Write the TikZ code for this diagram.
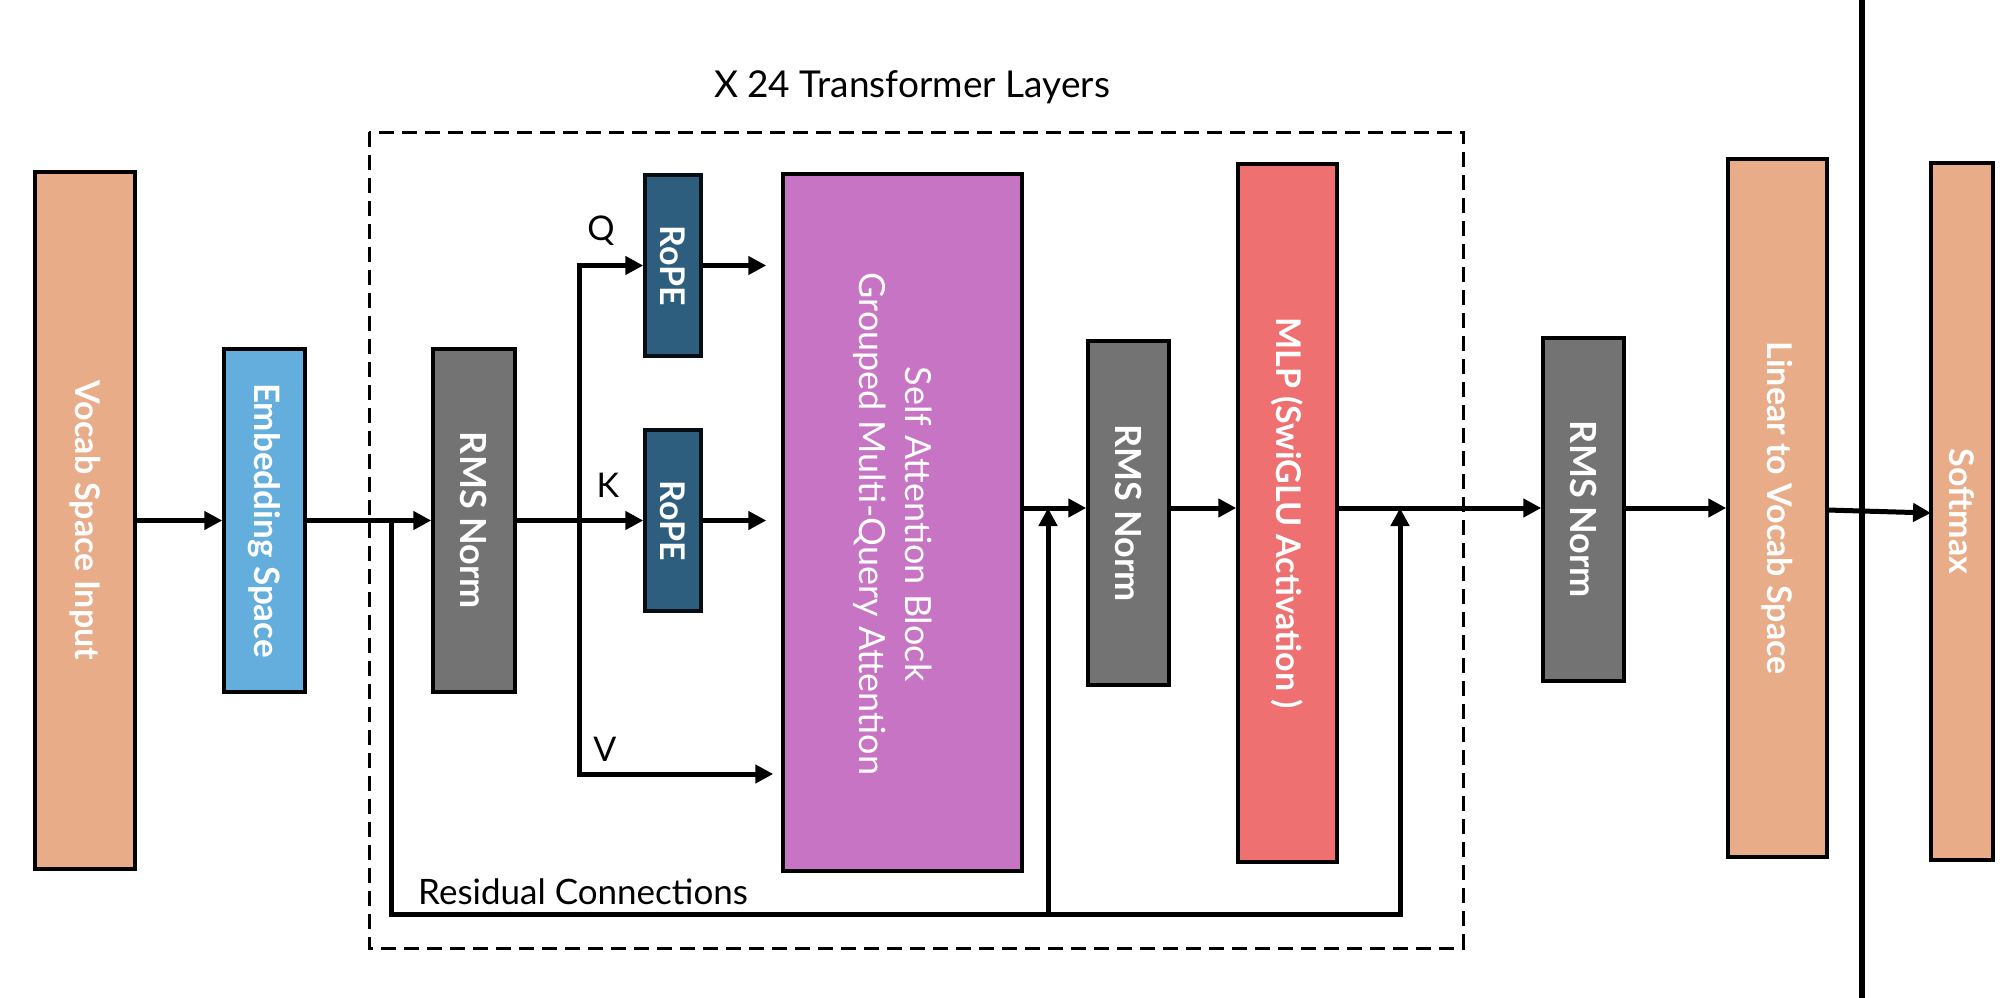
\documentclass[tikz,border=0pt]{standalone}
\usepackage{fontspec}
\setmainfont{Lato}
\usetikzlibrary{arrows.meta}
\definecolor{salmon}{HTML}{E8AC88}
\definecolor{embblue}{HTML}{63AEDC}
\definecolor{rmsgray}{HTML}{737373}
\definecolor{ropeblue}{HTML}{2E5E7E}
\definecolor{attpink}{HTML}{C774C4}
\definecolor{mlpred}{HTML}{EF7070}
\tikzset{
  blk/.style={draw=black, line width=3.5pt, inner sep=0pt, text=white,
    font=\bfseries\fontsize{34}{40}\selectfont},
  bigtxt/.style={font=\bfseries\fontsize{36}{42}\selectfont},
  conn/.style={line width=5pt},
  arr/.style={line width=5pt, -{Triangle[length=18pt,width=18pt]}},
  lbl/.style={font=\fontsize{34}{40}\selectfont, inner sep=0pt, anchor=base},
}
\begin{document}
\begin{tikzpicture}[x=1pt,y=-1pt]
\useasboundingbox (0,0) rectangle (2016,998);
% frame of the repeated layers
\draw[line width=3pt, dash pattern=on 15pt off 8pt] (369,132) rectangle (1463,948);
\node[lbl, font=\fontsize{37}{42}\selectfont] (title) at (912,97) {X 24 Transformer Layers};
% separator
\coordinate (septop) at (1862,0);
\coordinate (sepbot) at (1862,998);
\draw[line width=5.5pt] (septop) -- (sepbot);
% blocks
\node[blk, fill=salmon, minimum width=100pt, minimum height=697pt] (vocab) at (85,520.5) {\rotatebox{-90}{Vocab Space Input}};
\node[blk, bigtxt, font=\bfseries\fontsize{35}{40}\selectfont, fill=embblue, minimum width=81pt, minimum height=343pt] (emb) at (264.5,520.5) {\rotatebox{-90}{Embedding Space}};
\node[blk, bigtxt, fill=rmsgray, minimum width=82pt, minimum height=343pt] (rms1) at (474,520.5) {\rotatebox{-90}{RMS Norm}};
\node[blk, fill=ropeblue, draw=black!85!ropeblue, minimum width=56pt, minimum height=181pt] (rope1) at (673,265.5) {\rotatebox{-90}{RoPE}};
\node[blk, fill=ropeblue, draw=black!85!ropeblue, minimum width=56pt, minimum height=181pt] (rope2) at (673,520.5) {\rotatebox{-90}{RoPE}};
\node[blk, fill=attpink, minimum width=239pt, minimum height=697pt] (att) at (902.5,522.5) {};
\node[rotate=-90, align=center, text=white, inner sep=0pt, font=\fontsize{36}{46}\selectfont] (atttxt) at (893,524) {Self Attention Block\\Grouped Multi-Query Attention};
\node[blk, bigtxt, fill=rmsgray, minimum width=81pt, minimum height=344pt] (rms2) at (1128.5,513) {\rotatebox{-90}{RMS Norm}};
\node[blk, fill=mlpred, minimum width=99pt, minimum height=698pt] (mlp) at (1287.5,513) {\rotatebox{-90}{MLP (SwiGLU Activation )}};
\node[blk, bigtxt, fill=rmsgray, minimum width=81pt, minimum height=343pt] (rms3) at (1583.5,509.5) {\rotatebox{-90}{RMS Norm}};
\node[blk, fill=salmon, minimum width=99pt, minimum height=698pt] (lin) at (1777.5,508) {\rotatebox{-90}{Linear to Vocab Space}};
\node[blk, fill=salmon, minimum width=62pt, minimum height=697pt] (soft) at (1962,511.5) {\rotatebox{-90}{Softmax}};
% labels
\node[lbl] (qlab) at (601,240) {Q};
\node[lbl] (klab) at (608,497) {K};
\node[lbl] (vlab) at (605,761) {V};
\node[lbl, anchor=base west, font=\fontsize{35}{40}\selectfont] (reslab) at (418,904) {Residual Connections};
% helper coordinates
\coordinate (r0) at (391,520.5);
\coordinate (rb) at (391,914);
\coordinate (ra) at (1048,914);
\coordinate (rc) at (1400,914);
\coordinate (ua) at (1048,508);
\coordinate (uc) at (1400,508);
\coordinate (sq) at (579,265.5);
\coordinate (sv) at (579,774);
\coordinate (lo) at (1827,510);
\coordinate (si) at (1931,513);
% main path
\draw[arr] (vocab.east) -- (emb.west);
\draw[arr] (emb.east) -- (rms1.west);
\draw[arr] (rms1.east) -- (rope2.west);
\draw[conn] (sv) -- ([yshift=-2.5pt]sq);
\draw[arr] ([xshift=-2.5pt]sq) -- (rope1.west);
\draw[arr] ([xshift=-2.5pt]sv) -- ([xshift=-8pt]att.west |- sv);
\draw[arr] (rope1.east) -- ([xshift=-15pt]att.west |- rope1.east);
\draw[arr] (rope2.east) -- ([xshift=-15pt]att.west |- rope2.east);
\draw[arr] (att.east |- ua) -- (rms2.west |- ua);
\draw[arr] (rms2.east |- ua) -- (mlp.west |- ua);
\draw[arr] (mlp.east |- uc) -- (rms3.west |- uc);
\draw[arr] (rms3.east |- uc) -- (lin.west |- uc);
\draw[arr] (lo) -- (si);
% residual connections
\draw[conn, line join=miter] (r0) -- (rb) -- ([xshift=2.5pt]rc);
\draw[arr] (ra) -- (ua);
\draw[arr] ([yshift=2.5pt]rc) -- (uc);
\end{tikzpicture}
\end{document}
